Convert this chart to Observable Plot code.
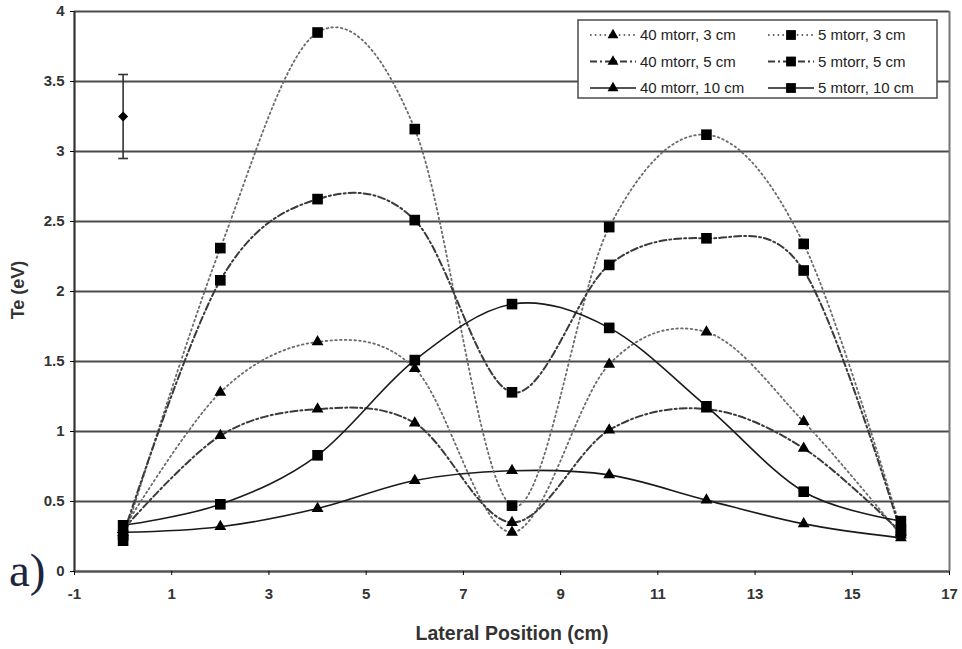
<!DOCTYPE html>
<html><head><meta charset="utf-8">
<script src="https://cdn.jsdelivr.net/npm/d3@7"></script>
<script src="https://cdn.jsdelivr.net/npm/@observablehq/plot@0.6"></script>
<style>
body{margin:0;background:#fff;}
#wrap{position:relative;width:962px;height:649px;overflow:hidden;}
#wrap svg{position:absolute;left:0;top:0;}
</style></head><body><div id="wrap"></div>
<script>
// ---- data ----
const positions = [0, 2, 4, 6, 8, 10, 12, 14, 16];
const te40mt3cm  = [0.30, 1.28, 1.64, 1.45, 0.28, 1.48, 1.71, 1.07, 0.26];
const te40mt5cm  = [0.30, 0.97, 1.16, 1.06, 0.35, 1.01, 1.16, 0.88, 0.28];
const te40mt10cm = [0.28, 0.32, 0.45, 0.65, 0.72, 0.69, 0.51, 0.34, 0.24];
const te5mt3cm   = [0.22, 2.31, 3.85, 3.16, 0.47, 2.46, 3.12, 2.34, 0.30];
const te5mt5cm   = [0.26, 2.08, 2.66, 2.51, 1.28, 2.19, 2.38, 2.15, 0.28];
const te5mt10cm  = [0.33, 0.48, 0.83, 1.51, 1.91, 1.74, 1.18, 0.57, 0.36];
const seriesNames = ["40 mtorr, 3 cm", "40 mtorr, 5 cm", "40 mtorr, 10 cm", "5 mtorr, 3 cm", "5 mtorr, 5 cm", "5 mtorr, 10 cm"];
const seriesValues = [te40mt3cm, te40mt5cm, te40mt10cm, te5mt3cm, te5mt5cm, te5mt10cm];
const errPos = [0];
const errMid = [3.25];
const errLow = [2.95];
const errHigh = [3.55];
const xTicks = [-1, 1, 3, 5, 7, 9, 11, 13, 15, 17];
const yTicks = [0, 0.5, 1, 1.5, 2, 2.5, 3, 3.5, 4];

// ---- styles ----
const lineStyles = {
  dotted: {stroke: "#6a6a6a", strokeWidth: 1.8, strokeDasharray: "1.6,3.2"},
  dashdot: {stroke: "#3a3a3a", strokeWidth: 2, strokeDasharray: "7,3,2,3"},
  solid: {stroke: "#1a1a1a", strokeWidth: 1.6}
};
const styleOf = i => ["dotted", "dashdot", "solid"][i % 3];
const markerOf = i => i < 3 ? "triangle" : "square";
const markerR = {triangle: 4.4, square: 6.0};

const rows = seriesValues.flatMap((vals, i) => vals.map((v, j) => ({series: seriesNames[i], idx: i, x: positions[j], y: v})));
const errRows = errPos.map((p, i) => ({x: p, mid: errMid[i], lo: errLow[i], hi: errHigh[i]}));

const marks = [
  Plot.ruleY(yTicks, {stroke: "#4a4a4a", strokeWidth: 2}),
  Plot.ruleX([17], {stroke: "#777", strokeWidth: 2}),
  Plot.ruleX([-1], {stroke: "#333", strokeWidth: 2.2}),
  Plot.ruleY([0], {stroke: "#555", strokeWidth: 2}),
  Plot.axisY(yTicks, {tickSize: 4, tickPadding: 6, tickFormat: d => String(d), fontSize: 15, fontWeight: "bold", fill: "#333", label: null}),
  Plot.axisX(xTicks, {tickSize: 4, tickPadding: 13, tickFormat: d => String(d), fontSize: 15, fontWeight: "bold", fill: "#333", label: null}),
];
seriesValues.forEach((vals, i) => {
  const data = rows.filter(r => r.idx === i);
  marks.push(Plot.line(data, {x: "x", y: "y", curve: "cardinal", ...lineStyles[styleOf(i)]}));
});
seriesValues.forEach((vals, i) => {
  const data = rows.filter(r => r.idx === i);
  const m = markerOf(i);
  marks.push(Plot.dot(data, {x: "x", y: "y", symbol: m, r: markerR[m], fill: "#000", stroke: "none"}));
});
marks.push(
  Plot.ruleX(errRows, {x: "x", y1: "lo", y2: "hi", stroke: "#333", strokeWidth: 1.6}),
  Plot.link(errRows, {x1: d => d.x - 0.1, x2: d => d.x + 0.1, y1: "hi", y2: "hi", stroke: "#333", strokeWidth: 1.6}),
  Plot.link(errRows, {x1: d => d.x - 0.1, x2: d => d.x + 0.1, y1: "lo", y2: "lo", stroke: "#333", strokeWidth: 1.6}),
  Plot.dot(errRows, {x: "x", y: "mid", symbol: "diamond2", r: 4.5, fill: "#000", stroke: "none"})
);

const chart = Plot.plot({
  width: 962, height: 649,
  marginLeft: 74, marginRight: 13, marginTop: 11, marginBottom: 78,
  style: {fontFamily: "'Liberation Sans', Arial, sans-serif", background: "#fff"},
  x: {domain: [-1, 17], axis: null},
  y: {domain: [0, 4], axis: null},
  marks
});
const wrap = document.getElementById("wrap");
wrap.appendChild(chart);

// ---- axis titles & panel label ----
const svg = d3.select(chart);
svg.append("text").attr("transform", "translate(24,290) rotate(-90)").attr("text-anchor", "middle")
  .attr("font-size", 18).attr("font-weight", "bold").attr("fill", "#333").text("Te (eV)");
svg.append("text").attr("x", 512).attr("y", 640).attr("text-anchor", "middle")
  .attr("font-size", 19.5).attr("font-weight", "bold").attr("fill", "#333").text("Lateral Position (cm)");
svg.append("text").attr("x", 9).attr("y", 586).attr("text-anchor", "start").attr("font-family", "'Liberation Serif', 'DejaVu Serif', serif")
  .attr("font-size", 47).attr("fill", "#1c2540").text("a)");

// ---- legend ----
const lg = svg.append("g").attr("transform", "translate(578,20)");
lg.append("rect").attr("width", 359).attr("height", 78).attr("fill", "#fff").attr("stroke", "#555").attr("stroke-width", 1.6);
seriesNames.forEach((name, i) => {
  const col = i < 3 ? 0 : 1;
  const row = i % 3;
  const gx = col === 0 ? 12 : 190;
  const gy = 15 + row * 26.5;
  const st = lineStyles[styleOf(i)];
  lg.append("line").attr("x1", gx).attr("x2", gx + 46).attr("y1", gy).attr("y2", gy)
    .attr("stroke", st.stroke).attr("stroke-width", st.strokeWidth).attr("stroke-dasharray", st.strokeDasharray || null);
  const m = markerOf(i);
  const sym = m === "triangle" ? d3.symbolTriangle : d3.symbolSquare;
  lg.append("path").attr("transform", `translate(${gx + 23},${gy})`)
    .attr("d", d3.symbol(sym, Math.PI * markerR[m] * markerR[m] * 0.85)()).attr("fill", "#000");
  lg.append("text").attr("x", gx + 50).attr("y", gy + 5).attr("text-anchor", "start")
    .attr("font-size", 15).attr("fill", "#222").text(name);
});
</script></body></html>
